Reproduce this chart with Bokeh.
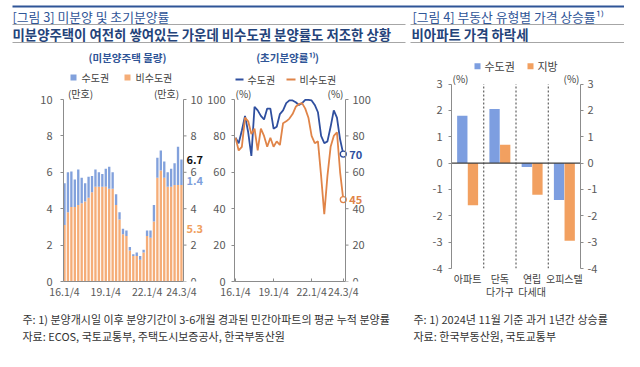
from bokeh.plotting import figure
from bokeh.models import Range1d, LinearAxis, FixedTicker, ColumnDataSource
from bokeh.transform import dodge
from bokeh.layouts import column, row
from bokeh.embed import file_html
from bokeh.resources import INLINE
from bokeh.core.properties import value

FONT = "Noto Sans CJK KR"

# ---------------- data ----------------
quarter_tick_index = [0, 12, 24, 34]
quarter_tick_labels = ["16.1/4", "19.1/4", "22.1/4", "24.3/4"]

# unsold housing (10k units), quarterly 2016Q1 - 2024Q3
unsold_noncapital = [3.1, 3.8, 4.1, 4.1, 4.2, 4.3, 4.4, 4.6, 4.9, 5.2, 5.2, 5.2, 5.2, 5.1, 5.1,
                     4.2, 3.4, 2.6, 2.5, 1.7, 1.4, 1.4, 1.2, 1.6, 2.5, 2.4, 3.3, 5.7, 6.1, 5.7,
                     5.2, 5.2, 5.3, 5.3, 5.3]
unsold_capital = [2.3, 2.2, 1.95, 1.5, 1.95, 1.4, 1.0, 1.15, 0.9, 0.95, 0.8, 0.7, 1.0, 1.2, 0.9,
                  0.6, 0.4, 0.3, 0.3, 0.2, 0.1, 0.2, 0.2, 0.15, 0.3, 0.4, 0.9, 1.1, 1.1, 0.9,
                  0.8, 1.0, 1.2, 2.1, 1.4]
unsold_ticks = [0, 2, 4, 6, 8, 10]

# initial sales rate (%)
rate_capital = [79, 76, 83, 91, 82, 69, 96, 94, 91, 89, 95, 95, 84, 85, 92, 94, 98, 99.5, 99.5,
                98.5, 97, 98, 99.8, 99.8, 99.5, 97, 93, 80, 76, 77, 85, 94, 90, 78, 70]
rate_noncapital = [79, 72, 74, 90, 88, 81, 84, 72, 84, 80, 74, 79, 74, 77, 75, 87, 88, 89.5, 92,
                   96, 97.5, 98, 95, 90, 80, 76, 77, 58, 37, 58, 74, 80, 82, 60, 45]
rate_ticks = [0, 20, 40, 60, 80, 100]

# price change by type (%)
price_categories = ["아파트", "단독\n다가구", "연립\n다세대", "오피스텔"]
price_capital = [1.8, 2.05, -0.15, -1.4]
price_local = [-1.6, 0.7, -1.2, -2.95]
price_ticks = [-4, -3, -2, -1, 0, 1, 2, 3]

# ---------------- styles ----------------
BLUE_BAR = "#82a1dc"
ORANGE_BAR = "#f5ad78"
BLUE_LINE = "#2f4f9f"
ORANGE_LINE = "#e08448"
BLUE_BAR3 = "#7d9ee0"
ORANGE_BAR3 = "#f2a060"
TITLE_BLUE = "#2f5597"
AXIS_GRAY = "#8c8c8c"
TICK_TEXT = "#595959"
TEXT_DARK = "#404040"


class Geo:
    """Maps reference-pixel positions inside a panel's frame to its data space."""
    def __init__(self, xl, xr, x0, x1, yb, yt, y0, y1):
        self.xl, self.xr, self.x0, self.x1 = xl, xr, x0, x1
        self.yb, self.yt, self.y0, self.y1 = yb, yt, y0, y1

    def x(self, X):
        return self.x0 + (X - self.xl) * (self.x1 - self.x0) / (self.xr - self.xl)

    def y(self, Y):
        return self.y0 + (self.yb - Y) * (self.y1 - self.y0) / (self.yb - self.yt)

    def px_x(self, n):
        return n * (self.x1 - self.x0) / (self.xr - self.xl)


def base_fig(width, height, xr, yr, bl=0, br=0, bt=0, bb=0, axes=True):
    kw = dict(width=width, height=height, x_range=xr, y_range=yr,
              output_backend="svg", toolbar_location=None,
              min_border_left=bl, min_border_right=br,
              min_border_top=bt, min_border_bottom=bb)
    if not axes:
        kw.update(x_axis_location=None, y_axis_location=None)
    p = figure(**kw)
    try:
        p.frame_align = False
    except Exception:
        pass
    p.grid.visible = False
    p.outline_line_color = None
    p.background_fill_color = "white"
    p.border_fill_color = "white"
    return p


def style_yaxis(ax, ticks, bounds, standoff=6):
    ax.ticker = FixedTicker(ticks=ticks)
    ax.major_label_overrides = {t: str(t) for t in ticks}
    ax.bounds = bounds
    ax.axis_line_color = AXIS_GRAY
    ax.major_tick_line_color = AXIS_GRAY
    ax.major_tick_out = 3
    ax.major_tick_in = 0
    ax.minor_tick_line_color = None
    ax.major_label_text_font = FONT
    ax.major_label_text_font_size = "11px"
    ax.major_label_text_color = TICK_TEXT
    ax.major_label_standoff = standoff


def style_xaxis(ax, ticks, labels, bounds=None, tick_in=0, line=True, size="10.5px",
                color=TICK_TEXT, line_height=1.0):
    ax.ticker = FixedTicker(ticks=ticks)
    ax.major_label_overrides = {t: l for t, l in zip(ticks, labels)}
    if bounds is not None:
        ax.bounds = bounds
    ax.axis_line_color = AXIS_GRAY if line else None
    ax.major_tick_line_color = AXIS_GRAY if tick_in else None
    ax.major_tick_in = tick_in
    ax.major_tick_out = 0
    ax.minor_tick_line_color = None
    ax.major_label_text_font = FONT
    ax.major_label_text_font_size = size
    ax.major_label_text_color = color
    ax.major_label_text_line_height = line_height
    ax.major_label_standoff = 2


def txt(p, g, X, Y, s, size="10px", color=TEXT_DARK, align="left", bold=False):
    p.text(x=[g.x(X)], y=[g.y(Y)], text=[s], text_font=value(FONT), text_font_size=size,
           text_color=color, text_align=align, text_baseline="middle",
           text_font_style="bold" if bold else "normal")


def manual_right_axis(p, g, X, ticks, bottom, top):
    """Secondary (mirror) value axis drawn at pixel column X of the panel."""
    xa = g.x(X)
    p.segment(x0=[xa], y0=[bottom], x1=[xa], y1=[top], line_color=AXIS_GRAY, line_width=1)
    p.segment(x0=[xa] * len(ticks), y0=ticks, x1=[xa + g.px_x(3)] * len(ticks), y1=ticks,
              line_color=AXIS_GRAY, line_width=1)
    p.text(x=[xa] * len(ticks), y=ticks, text=[str(t) for t in ticks], x_offset=7,
           text_font=value(FONT), text_font_size="11px", text_color=TICK_TEXT,
           text_align="left", text_baseline="middle")
    return xa


# ---------------- header (0..624 x 0..50) ----------------
hdr = base_fig(624, 50, Range1d(0, 624), Range1d(50, 0), axes=False)
hdr.segment(x0=[12], y0=[6], x1=[624], y1=[6], line_color=TITLE_BLUE, line_width=2)
hdr.segment(x0=[12, 410, 12, 410], y0=[24, 24, 42, 42], x1=[405, 624, 405, 624],
            y1=[24, 24, 42, 42], line_color="#a6a6a6", line_width=1)
hdr.text(x=[12, 412], y=[16, 16],
         text=["[그림 3] 미분양 및 초기분양률", "[그림 4] 부동산 유형별 가격 상승률¹⁾"],
         text_font=value(FONT), text_font_size="12.8px", text_color=TITLE_BLUE,
         text_baseline="middle")
hdr.text(x=[12, 411], y=[33, 33],
         text=["미분양주택이 여전히 쌓여있는 가운데 비수도권 분양률도 저조한 상황",
               "비아파트 가격 하락세"],
         text_font=value(FONT), text_font_size="13.4px", text_color="#24437a",
         text_font_style="bold", text_baseline="middle")

# ---------------- panel 1: unsold housing (x 0..204, y 50..302) ----------------
g1 = Geo(63, 204, -0.29, -0.29 + 141 / 3.44, 281, 50, 0, 231 / 18.2)
n = len(unsold_capital)
p1 = base_fig(204, 252, Range1d(g1.x0, g1.x1), Range1d(g1.y0, g1.y1), bl=63, br=0, bt=0, bb=21)
src1 = ColumnDataSource(dict(x=list(range(n)), noncap=unsold_noncapital, cap=unsold_capital))
p1.vbar_stack(["noncap", "cap"], x="x", width=0.68, fill_color=[ORANGE_BAR, BLUE_BAR],
              line_color=None, source=src1)
style_yaxis(p1.yaxis[0], unsold_ticks, (unsold_ticks[0], unsold_ticks[-1]), standoff=8)
xa1 = manual_right_axis(p1, g1, 183, unsold_ticks, unsold_ticks[0], unsold_ticks[-1])
style_xaxis(p1.xaxis[0], quarter_tick_index, quarter_tick_labels, bounds=(g1.x0, xa1))

txt(p1, g1, 127, 57, "(미분양주택 물량)", size="10.5px", color=TITLE_BLUE, align="center", bold=True)
p1.scatter([g1.x(73), g1.x(127)], [g1.y(77), g1.y(77)], marker="square", size=6,
           fill_color=[BLUE_BAR, ORANGE_BAR], line_color=None)
txt(p1, g1, 81, 77, "수도권")
txt(p1, g1, 135, 77, "비수도권")
txt(p1, g1, 80, 93, "(만호)", align="center")
txt(p1, g1, 166, 93, "(만호)", align="center")

last_cap = unsold_capital[-1]
last_non = unsold_noncapital[-1]
last_tot = last_cap + last_non
p1.text(x=[n - 1], y=[last_tot], text=[f"{last_tot:.1f}"], x_offset=5,
        text_font=value(FONT), text_font_size="11px", text_font_style="bold",
        text_color="#111111", text_baseline="middle")
p1.text(x=[n - 1], y=[last_non + 0.25], text=[f"{last_cap:.1f}"], x_offset=5,
        text_font=value(FONT), text_font_size="11px", text_font_style="bold",
        text_color="#7f9fdc", text_baseline="middle")
p1.text(x=[n - 1], y=[last_non * 0.55], text=[f"{last_non:.1f}"], x_offset=5,
        text_font=value(FONT), text_font_size="11px", text_font_style="bold",
        text_color="#f0a060", text_baseline="middle")

# ---------------- panel 2: initial sales rate (x 204..405) ----------------
g2 = Geo(234, 405, -0.32, -0.32 + 171 / 3.17, 281, 50, 0, 231 / 1.82)
p2 = base_fig(201, 252, Range1d(g2.x0, g2.x1), Range1d(g2.y0, g2.y1), bl=30, br=0, bt=0, bb=21)
xs = list(range(len(rate_capital)))
p2.line(xs, rate_capital, line_color=BLUE_LINE, line_width=1.8)
p2.line(xs, rate_noncapital, line_color=ORANGE_LINE, line_width=1.8)
p2.scatter([xs[-1]], [rate_capital[-1]], marker="circle", size=6, fill_color="white",
           line_color=BLUE_LINE, line_width=1.3)
p2.scatter([xs[-1]], [rate_noncapital[-1]], marker="circle", size=6, fill_color="white",
           line_color=ORANGE_LINE, line_width=1.3)
style_yaxis(p2.yaxis[0], rate_ticks, (rate_ticks[0], rate_ticks[-1]), standoff=6)
xa2 = manual_right_axis(p2, g2, 345, rate_ticks, rate_ticks[0], rate_ticks[-1])
style_xaxis(p2.xaxis[0], quarter_tick_index, quarter_tick_labels, bounds=(g2.x0, xa2), tick_in=3)

txt(p2, g2, 287, 57, "(초기분양률¹⁾)", size="10.5px", color=TITLE_BLUE, align="center", bold=True)
p2.segment(x0=[g2.x(235), g2.x(286)], y0=[g2.y(79)] * 2, x1=[g2.x(243), g2.x(295)],
           y1=[g2.y(79)] * 2, line_color=[BLUE_LINE, ORANGE_LINE], line_width=2)
txt(p2, g2, 247, 79, "수도권")
txt(p2, g2, 299, 79, "비수도권")
txt(p2, g2, 243, 93, "(%)", align="center")
txt(p2, g2, 335, 93, "(%)", align="center")
p2.text(x=[xs[-1]], y=[rate_capital[-1]], text=[f"{rate_capital[-1]:.0f}"], x_offset=6,
        text_font=value(FONT), text_font_size="11px", text_font_style="bold",
        text_color=BLUE_LINE, text_baseline="middle")
p2.text(x=[xs[-1]], y=[rate_noncapital[-1]], text=[f"{rate_noncapital[-1]:.0f}"], x_offset=6,
        text_font=value(FONT), text_font_size="11px", text_font_style="bold",
        text_color=ORANGE_LINE, text_baseline="middle")

# ---------------- panel 3: price change (x 405..624) ----------------
g3 = Geo(451, 580, -0.5, 3.5, 271, 50, -4, -4 + 221 / 26.71)
p3 = base_fig(219, 252, Range1d(g3.x0, g3.x1), Range1d(g3.y0, g3.y1), bl=46, br=44, bt=0, bb=31)
src3 = ColumnDataSource(dict(x=list(range(len(price_categories))), cap=price_capital,
                             loc=price_local))
p3.vbar(x=dodge("x", -0.165, range=p3.x_range), top="cap", bottom=0, width=0.32,
        fill_color=BLUE_BAR3, line_color=None, source=src3)
p3.vbar(x=dodge("x", 0.165, range=p3.x_range), top="loc", bottom=0, width=0.32,
        fill_color=ORANGE_BAR3, line_color=None, source=src3)
p3.segment(x0=[g3.x0], y0=[0], x1=[g3.x1], y1=[0], line_color="#404040", line_width=1.3)
seps = [i + 0.5 for i in range(len(price_categories) - 1)]
p3.segment(x0=seps, y0=[price_ticks[0]] * len(seps), x1=seps, y1=[price_ticks[-1]] * len(seps),
           line_color="#404040", line_width=1, line_dash="2 2")
style_yaxis(p3.yaxis[0], price_ticks, (price_ticks[0], price_ticks[-1]), standoff=6)
r3 = LinearAxis()
p3.add_layout(r3, "right")
style_yaxis(r3, price_ticks, (price_ticks[0], price_ticks[-1]), standoff=4)
style_xaxis(p3.xaxis[0], list(range(len(price_categories))), price_categories, line=False,
            size="10px", color=TEXT_DARK, line_height=0.9)

p3.scatter([g3.x(477), g3.x(530)], [g3.y(66), g3.y(66)], marker="square", size=6,
           fill_color=[BLUE_BAR3, ORANGE_BAR3], line_color=None)
txt(p3, g3, 484, 66, "수도권", size="11px")
txt(p3, g3, 537, 66, "지방", size="11px")
txt(p3, g3, 460, 78, "(%)", align="center")
txt(p3, g3, 571, 78, "(%)", align="center")

# ---------------- footer (y 302..351) ----------------
ftr = base_fig(624, 49, Range1d(0, 624), Range1d(351, 302), axes=False)
ftr.text(x=[22, 22, 413, 413], y=[318, 335, 318, 335],
         text=["주: 1) 분양개시일 이후 분양기간이 3-6개월 경과된 민간아파트의 평균 누적 분양률",
               "자료: ECOS, 국토교통부, 주택도시보증공사, 한국부동산원",
               "주: 1) 2024년 11월 기준 과거 1년간 상승률",
               "자료: 한국부동산원, 국토교통부"],
         text_font=value(FONT), text_font_size="11px", text_color="#333333",
         text_baseline="middle")

layout = column(hdr, row(p1, p2, p3), ftr)
open("out.html", "w").write(file_html(layout, INLINE))
